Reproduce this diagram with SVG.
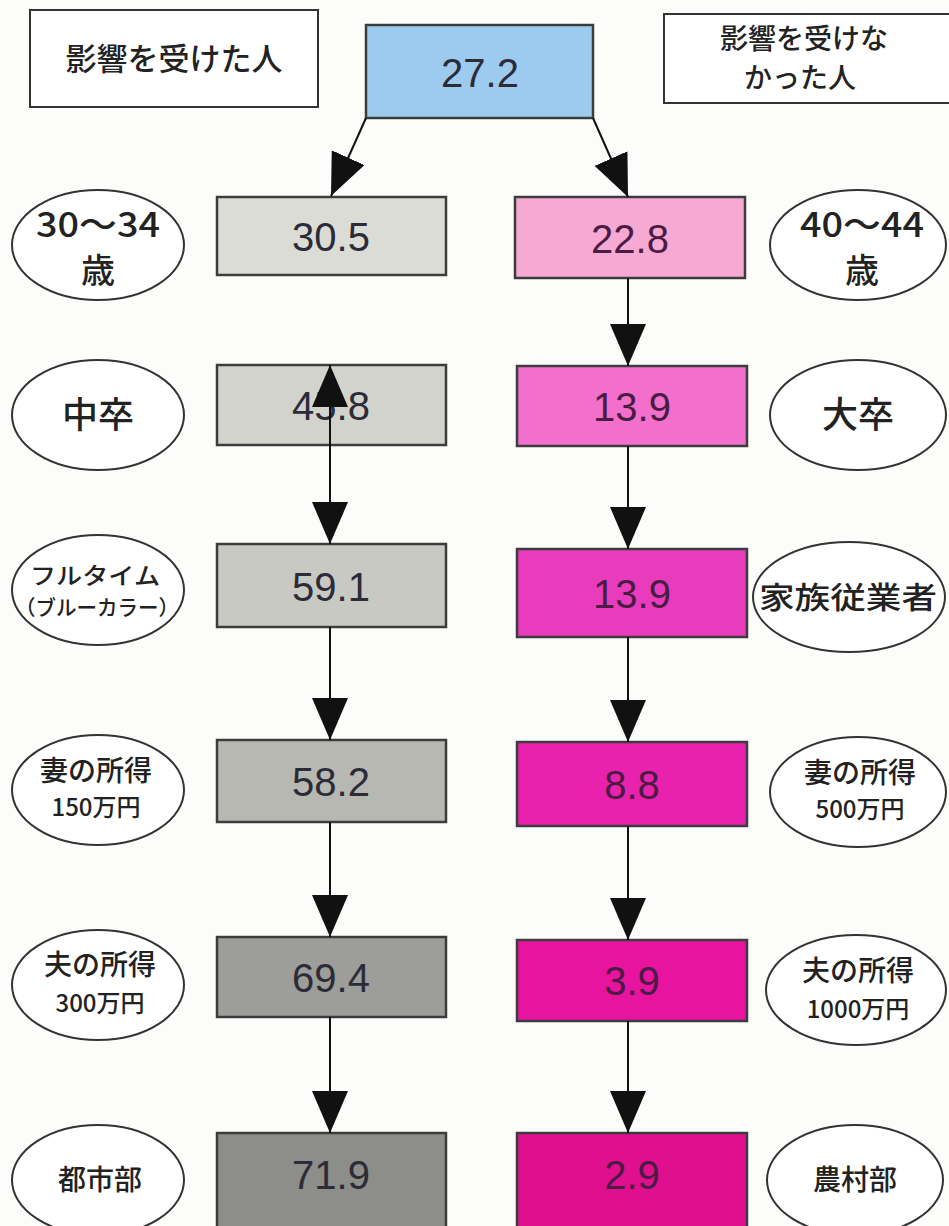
<svg xmlns="http://www.w3.org/2000/svg" width="949" height="1226" viewBox="0 0 949 1226">
<defs>
<style>
.bg{fill:#fcfcfa}
.box{stroke:#3c3c3c;stroke-width:2.5}
.lbl{fill:#fff;stroke:#333;stroke-width:2}
.oval{fill:#fff;stroke:#333;stroke-width:2}
.num{font-family:"Liberation Sans","Noto Sans CJK JP",sans-serif;font-size:40px;fill:#2c2c38;text-anchor:middle}
.pnum{fill:#4a1c44}
.jp{font-family:"Noto Sans CJK JP","Liberation Sans",sans-serif;fill:#222;text-anchor:middle;font-weight:500}
.con{stroke:#111;stroke-width:2;fill:none}
</style>
<marker id="ah" markerUnits="userSpaceOnUse" markerWidth="42" markerHeight="36" refX="42" refY="18" orient="auto-start-reverse" viewBox="0 0 42 36">
<path d="M0,0 L42,18 L0,36 z" fill="#111"/>
</marker>
</defs>
<rect class="bg" x="0" y="0" width="949" height="1226"/>

<g id="title-left">
<rect class="lbl" x="30" y="10" width="288" height="97"/>
<text class="jp" x="174" y="70" font-size="31">影響を受けた人</text>
</g>
<g id="title-right">
<rect class="lbl" x="664" y="14" width="290" height="89"/>
<text class="jp" x="804" y="49" font-size="28">影響を受けな</text>
<text class="jp" x="800" y="88" font-size="28">かった人</text>
</g>
<g id="root">
<rect class="box" x="366" y="25" width="227" height="93" fill="#9dcbf0"/>
<text class="num" x="480" y="87">27.2</text>
</g>

<g id="L1"><rect class="box" x="217" y="197" width="229" height="78" fill="#dcdcd6"/><text class="num" x="331" y="251">30.5</text></g>
<g id="L2"><rect class="box" x="217" y="365" width="229" height="80" fill="#d3d3ce"/><text class="num" x="331" y="420">45.8</text></g>
<g id="L3"><rect class="box" x="217" y="544" width="229" height="83" fill="#c9c9c4"/><text class="num" x="331" y="601">59.1</text></g>
<g id="L4"><rect class="box" x="217" y="740" width="229" height="82" fill="#b8b8b3"/><text class="num" x="331" y="796">58.2</text></g>
<g id="L5"><rect class="box" x="217" y="937" width="229" height="80" fill="#9d9d99"/><text class="num" x="331" y="992">69.4</text></g>
<g id="L6"><rect class="box" x="217" y="1133" width="229" height="100" fill="#8d8d89"/><text class="num" x="331" y="1189">71.9</text></g>

<g id="R1"><rect class="box" x="515" y="197" width="230" height="81" fill="#f5a9d3"/><text class="num pnum" x="630" y="253">22.8</text></g>
<g id="R2"><rect class="box" x="517" y="366" width="230" height="80" fill="#f270cc"/><text class="num pnum" x="632" y="421">13.9</text></g>
<g id="R3"><rect class="box" x="517" y="549" width="230" height="88" fill="#e83cbc"/><text class="num pnum" x="632" y="608">13.9</text></g>
<g id="R4"><rect class="box" x="517" y="742" width="230" height="84" fill="#e822ad"/><text class="num pnum" x="632" y="799">8.8</text></g>
<g id="R5"><rect class="box" x="517" y="940" width="230" height="81" fill="#e8139e"/><text class="num pnum" x="632" y="995">3.9</text></g>
<g id="R6"><rect class="box" x="517" y="1133" width="230" height="100" fill="#e00f8e"/><text class="num pnum" x="632" y="1189">2.9</text></g>

<g id="OL1"><ellipse class="oval" cx="98" cy="245" rx="86" ry="55"/>
<text class="jp" x="98" y="237" font-size="34" textLength="124" lengthAdjust="spacingAndGlyphs">30〜34</text>
<text class="jp" x="98" y="283" font-size="34">歳</text></g>
<g id="OL2"><ellipse class="oval" cx="98" cy="415" rx="86" ry="55"/>
<text class="jp" x="98" y="428" font-size="36">中卒</text></g>
<g id="OL3"><ellipse class="oval" cx="98" cy="590" rx="86" ry="55"/>
<text class="jp" x="95" y="584" font-size="23" textLength="130" lengthAdjust="spacingAndGlyphs">フルタイム</text>
<text class="jp" x="97" y="615" font-size="21" textLength="164" lengthAdjust="spacingAndGlyphs">（ブルーカラー）</text></g>
<g id="OL4"><ellipse class="oval" cx="98" cy="790" rx="86" ry="55"/>
<text class="jp" x="96" y="781" font-size="28">妻の所得</text>
<text class="jp" x="96" y="816" font-size="24">150万円</text></g>
<g id="OL5"><ellipse class="oval" cx="98" cy="985" rx="86" ry="55"/>
<text class="jp" x="100" y="975" font-size="28">夫の所得</text>
<text class="jp" x="100" y="1012" font-size="24">300万円</text></g>
<g id="OL6"><ellipse class="oval" cx="98" cy="1180" rx="86" ry="55"/>
<text class="jp" x="100" y="1190" font-size="28">都市部</text></g>

<g id="OR1"><ellipse class="oval" cx="858" cy="245" rx="88" ry="55"/>
<text class="jp" x="862" y="237" font-size="34" textLength="124" lengthAdjust="spacingAndGlyphs">40〜44</text>
<text class="jp" x="862" y="283" font-size="34">歳</text></g>
<g id="OR2"><ellipse class="oval" cx="858" cy="415" rx="88" ry="55"/>
<text class="jp" x="858" y="428" font-size="36">大卒</text></g>
<g id="OR3"><ellipse class="oval" cx="849" cy="597" rx="96" ry="55"/>
<text class="jp" x="848" y="608" font-size="30" textLength="178" lengthAdjust="spacingAndGlyphs">家族従業者</text></g>
<g id="OR4"><ellipse class="oval" cx="858" cy="792" rx="88" ry="55"/>
<text class="jp" x="860" y="783" font-size="28">妻の所得</text>
<text class="jp" x="860" y="818" font-size="24">500万円</text></g>
<g id="OR5"><ellipse class="oval" cx="856" cy="990" rx="90" ry="55"/>
<text class="jp" x="858" y="981" font-size="28">夫の所得</text>
<text class="jp" x="858" y="1018" font-size="24">1000万円</text></g>
<g id="OR6"><ellipse class="oval" cx="855" cy="1180" rx="88" ry="55"/>
<text class="jp" x="855" y="1190" font-size="28">農村部</text></g>

<g id="connectors">
<line class="con" x1="366" y1="118" x2="331" y2="196" marker-end="url(#ah)"/>
<line class="con" x1="593" y1="118" x2="628" y2="197" marker-end="url(#ah)"/>
<line class="con" x1="330" y1="365" x2="330" y2="544" marker-start="url(#ah)" marker-end="url(#ah)"/>
<line class="con" x1="330" y1="627" x2="330" y2="740" marker-end="url(#ah)"/>
<line class="con" x1="330" y1="822" x2="330" y2="937" marker-end="url(#ah)"/>
<line class="con" x1="330" y1="1017" x2="330" y2="1133" marker-end="url(#ah)"/>
<line class="con" x1="628" y1="278" x2="628" y2="366" marker-end="url(#ah)"/>
<line class="con" x1="628" y1="446" x2="628" y2="549" marker-end="url(#ah)"/>
<line class="con" x1="628" y1="637" x2="628" y2="742" marker-end="url(#ah)"/>
<line class="con" x1="628" y1="826" x2="628" y2="940" marker-end="url(#ah)"/>
<line class="con" x1="628" y1="1021" x2="628" y2="1133" marker-end="url(#ah)"/>
</g>
</svg>
